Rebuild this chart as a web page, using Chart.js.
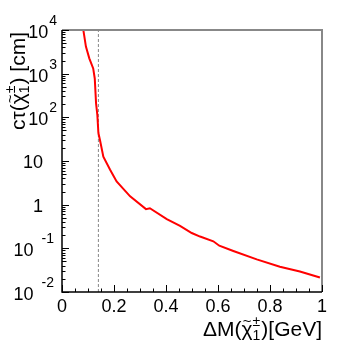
<!DOCTYPE html>
<html>
<head>
<meta charset="utf-8">
<script src="https://cdn.jsdelivr.net/npm/chart.js@4/dist/chart.umd.min.js"></script>
<style>
  html, body { margin: 0; padding: 0; background: #fff; }
  #wrap { width: 353px; height: 353px; }
</style>
</head>
<body>
<div id="wrap"><canvas id="ctau_chart" width="353" height="353"></canvas></div>
<script>
// mass splitting [GeV]
const deltaM = [0.080, 0.092, 0.105, 0.120, 0.126, 0.131, 0.136, 0.140, 0.146, 0.159, 0.185, 0.210, 0.262, 0.323, 0.338, 0.403, 0.454, 0.499, 0.531, 0.582, 0.605, 0.659, 0.749, 0.838, 0.915, 0.992];
// c*tau [cm]
const ctau = [12000, 4170, 2240, 1320, 776, 209, 112, 43.6, 30.2, 12.6, 6.3, 3.39, 1.55, 0.79, 0.83, 0.468, 0.327, 0.224, 0.186, 0.145, 0.115, 0.087, 0.056, 0.038, 0.0295, 0.0214];

// dashed marker line
const markerX = 0.14;

const xTicks = [0, 0.2, 0.4, 0.6, 0.8, 1];
const xTickLabels = ['0', '0.2', '0.4', '0.6', '0.8', '1'];
const yDecades = [1e4, 1e3, 1e2, 1e1, 1, 1e-1, 1e-2];
const yTickBase = ['10', '10', '10', '10', '1', '10', '10'];
const yTickExp = ['4', '3', '2', '', '', '-1', '-2'];

const FONT = '"Liberation Sans", Arial, Helvetica, sans-serif';

function partWidth(ctx, p) {
    ctx.font = p.size + 'px ' + FONT;
    if (p.stack) {
        let w1 = ctx.measureText(p.sup).width;
        let w2 = ctx.measureText(p.sub).width;
        return Math.max(w1, w2) + 1;
    }
    return ctx.measureText(p.t).width;
}

// draws a row of text pieces starting at x, baseline y
function drawParts(ctx, parts, x, y) {
    parts.forEach(p => {
        let w = partWidth(ctx, p);
        ctx.font = p.size + 'px ' + FONT;
        if (p.stack) {
            ctx.fillText(p.sup, x, y - p.size * 0.7);
            ctx.fillText(p.sub, x, y + p.size * 0.25);
        } else {
            ctx.fillText(p.t, x, y + (p.dy || 0));
            if (p.tilde) {
                let ts = Math.round(p.size * 0.7);
                ctx.font = ts + 'px ' + FONT;
                ctx.fillText('~', x + w / 2 - ctx.measureText('~').width / 2, y - p.size * 0.48);
            }
        }
        x += w;
    });
}

function totalWidth(ctx, parts) {
    return parts.reduce((s, p) => s + partWidth(ctx, p), 0);
}

const framePlugin = {
    id: 'frame',
    afterDatasetsDraw(chart) {
        const ctx = chart.ctx;
        const xs = chart.scales.x, ys = chart.scales.y;
        const a = chart.chartArea;
        ctx.save();

        // top / right frame
        ctx.strokeStyle = '#888';
        ctx.lineWidth = 2;
        ctx.beginPath();
        ctx.moveTo(a.left, a.top);
        ctx.lineTo(a.right, a.top);
        ctx.lineTo(a.right, a.bottom);
        ctx.stroke();

        // axes
        ctx.strokeStyle = '#000';
        ctx.lineWidth = 1.5;
        ctx.beginPath();
        ctx.moveTo(a.left, a.top);
        ctx.lineTo(a.left, a.bottom);
        ctx.lineTo(a.right, a.bottom);
        ctx.stroke();

        // x ticks
        ctx.lineWidth = 1;
        ctx.beginPath();
        for (let i = 0; i <= 20; i++) {
            let v = i * 0.05;
            let px = Math.round(xs.getPixelForValue(v)) + 0.5;
            let len = (i % 4 === 0) ? 7 : 3.5;
            ctx.moveTo(px, a.bottom);
            ctx.lineTo(px, a.bottom - len);
        }
        // y ticks (log)
        for (let e = -2; e <= 4; e++) {
            let py = Math.round(ys.getPixelForValue(Math.pow(10, e))) + 0.5;
            ctx.moveTo(a.left, py);
            ctx.lineTo(a.left + 7, py);
            if (e < 4) {
                for (let m = 2; m <= 9; m++) {
                    let q = Math.round(ys.getPixelForValue(m * Math.pow(10, e))) + 0.5;
                    ctx.moveTo(a.left, q);
                    ctx.lineTo(a.left + (m === 5 ? 4.5 : 3.5), q);
                }
            }
        }
        ctx.stroke();

        // x tick labels
        ctx.fillStyle = '#000';
        ctx.font = '18px ' + FONT;
        ctx.textAlign = 'center';
        ctx.textBaseline = 'alphabetic';
        xTicks.forEach((v, i) => {
            ctx.fillText(xTickLabels[i], xs.getPixelForValue(v), 312);
        });

        // y tick labels
        ctx.textAlign = 'left';
        yDecades.forEach((v, i) => {
            let py = ys.getPixelForValue(v);
            ctx.font = '18px ' + FONT;
            let bw = ctx.measureText(yTickBase[i]).width;
            if (yTickExp[i] === '') {
                ctx.fillText(yTickBase[i], 43 - bw, py + 7);
            } else {
                ctx.font = '14px ' + FONT;
                let ew = ctx.measureText(yTickExp[i]).width;
                let neg = yTickExp[i].charAt(0) === '-';
                let expRight = neg ? 54 : 57;
                let gap = neg ? 8 : 1;
                ctx.fillText(yTickExp[i], expRight - ew, py - 5);
                ctx.font = '18px ' + FONT;
                ctx.fillText(yTickBase[i], expRight - ew - gap - bw, py + 8);
            }
        });

        // x title
        const xTitle = [
            { t: '\u0394M(', size: 21 },
            { t: '\u03C7', size: 21, tilde: true },
            { stack: true, sup: '\u00B1', sub: '1', size: 14 },
            { t: ')[GeV]', size: 21 }
        ];
        let xw = totalWidth(ctx, xTitle);
        drawParts(ctx, xTitle, a.right - xw, 336);

        // y title (rotated)
        const yTitle = [
            { t: 'c\u03C4(', size: 21 },
            { t: '\u03C7', size: 21, tilde: true },
            { stack: true, sup: '\u00B1', sub: '1', size: 14 },
            { t: ') [cm]', size: 21 }
        ];
        let yw = totalWidth(ctx, yTitle);
        ctx.translate(25, 32);
        ctx.rotate(-Math.PI / 2);
        drawParts(ctx, yTitle, -yw, 0);

        ctx.restore();
    }
};

function fnCtauChart() {
    const ctx = document.getElementById('ctau_chart').getContext('2d');
    new Chart(ctx, {
        type: 'line',
        data: {
            datasets: [
                {
                    label: 'ctau',
                    data: deltaM.map((x, i) => ({ x: x, y: ctau[i] })),
                    borderColor: '#ff0000',
                    borderWidth: 2,
                    pointRadius: 0,
                    tension: 0,
                    fill: false
                },
                {
                    label: 'marker',
                    data: [{ x: markerX, y: 1e-2 }, { x: markerX, y: 1e4 }],
                    borderColor: '#888',
                    borderWidth: 1,
                    borderDash: [3, 2],
                    pointRadius: 0,
                    fill: false
                }
            ]
        },
        options: {
            responsive: false,
            animation: false,
            layout: {
                padding: { left: 62, top: 30, right: 31, bottom: 61 }
            },
            scales: {
                x: { type: 'linear', min: 0, max: 1, display: false },
                y: { type: 'logarithmic', min: 1e-2, max: 1e4, display: false }
            },
            plugins: {
                legend: { display: false },
                tooltip: { enabled: false }
            }
        },
        plugins: [framePlugin]
    });
}

fnCtauChart();
</script>
</body>
</html>
